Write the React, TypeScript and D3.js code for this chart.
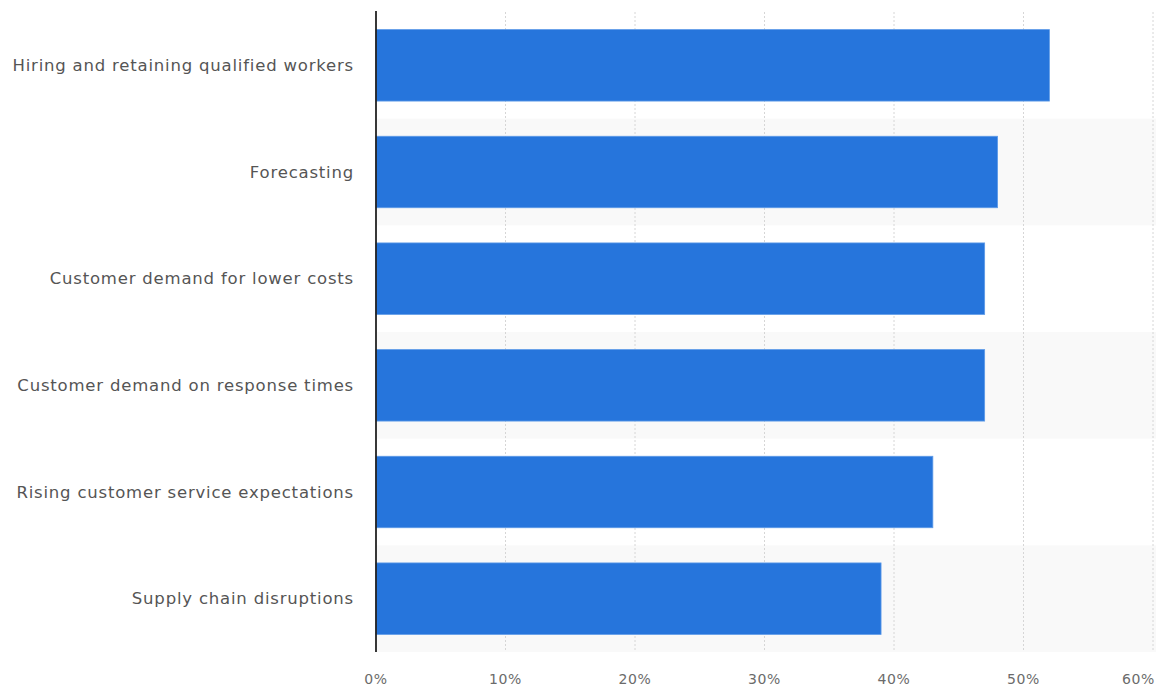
import React from "react";
import * as d3 from "d3";

const categories = [
  "Hiring and retaining qualified workers",
  "Forecasting",
  "Customer demand for lower costs",
  "Customer demand on response times",
  "Rising customer service expectations",
  "Supply chain disruptions",
];
const values = [52, 48, 47, 47, 43, 39];
const ticks = [0, 10, 20, 30, 40, 50, 60];

const W = 1167;
const H = 690;
const left = 376;
const right = 1153;
const top = 12;
const bottom = 652;

export default function App() {
  const x = d3.scaleLinear().domain([0, 60]).range([left, right]);
  const y = d3
    .scaleBand<string>()
    .domain(categories)
    .range([top, bottom])
    .paddingInner(0.33)
    .paddingOuter(0.165);
  const band = (bottom - top) / categories.length;
  const font = "'DejaVu Sans', Verdana, sans-serif";
  return (
    <svg
      width={W}
      height={H}
      style={{ position: "absolute", left: 0, top: 0, background: "#fff" }}
    >
      {categories.map((c, i) =>
        i % 2 === 1 ? (
          <rect
            key={"s" + i}
            x={left}
            y={top + i * band}
            width={right + 3 - left}
            height={band}
            fill="#f9f9f9"
          />
        ) : null
      )}
      {ticks.slice(1).map((t) => (
        <line
          key={"g" + t}
          x1={x(t)}
          x2={x(t)}
          y1={top}
          y2={bottom}
          stroke="#d6d6d6"
          strokeWidth={1}
          strokeDasharray="2,2"
        />
      ))}
      {categories.map((c, i) => (
        <rect
          key={"b" + c}
          x={x(0)}
          y={y(c)}
          width={x(values[i]) - x(0)}
          height={y.bandwidth()}
          fill="#2675dc"
          stroke="#5d9ae8"
          strokeWidth={0.8}
        />
      ))}
      <line x1={left} x2={left} y1={top - 1} y2={bottom} stroke="#222" strokeWidth={1.8} />
      {categories.map((c) => (
        <text
          key={"l" + c}
          x={354}
          y={(y(c) as number) + y.bandwidth() / 2}
          dy="0.35em"
          textAnchor="end"
          fontFamily={font}
          fontSize={16.5}
          letterSpacing={0.8}
          fill="#555"
        >
          {c}
        </text>
      ))}
      {ticks.map((t, i) => (
        <text
          key={"t" + t}
          x={i === ticks.length - 1 ? right + 2 : x(t)}
          y={679}
          dy="0.35em"
          textAnchor={i === ticks.length - 1 ? "end" : "middle"}
          fontFamily={font}
          fontSize={14}
          letterSpacing={0.6}
          fill="#6b6b6b"
        >
          {t + "%"}
        </text>
      ))}
    </svg>
  );
}
